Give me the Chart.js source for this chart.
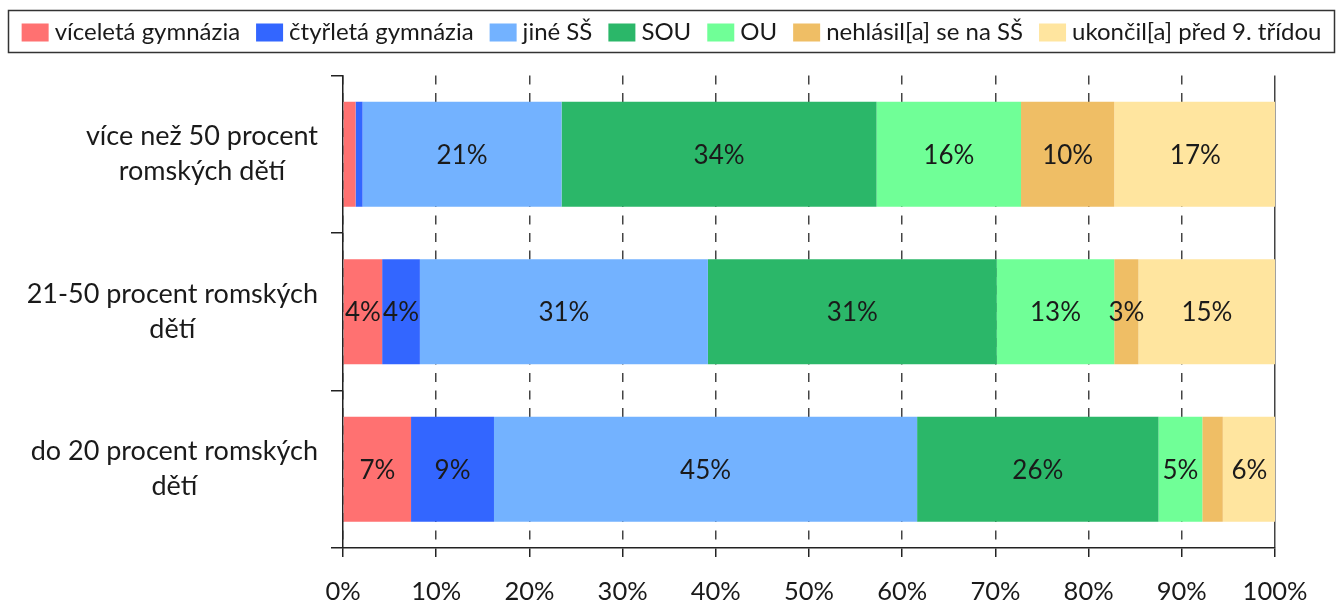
<!DOCTYPE html>
<html>
<head>
<meta charset="utf-8">
<script src="https://cdn.jsdelivr.net/npm/chart.js@4"></script>
<style>
  body { margin: 0; background: #fff; }
  canvas { display: block; }
</style>
</head>
<body>
<canvas id="chart" width="1342" height="604"></canvas>
<script>
// Categories (top to bottom)
const categories = [
  ['více než 50 procent', 'romských dětí'],
  ['21-50 procent romských', 'dětí'],
  ['do 20 procent romských', 'dětí']
];

// Series (percent of pupils)
const seriesNames = ['víceletá gymnázia', 'čtyřletá gymnázia', 'jiné SŠ', 'SOU', 'OU', 'nehlásil[a] se na SŠ', 'ukončil[a] před 9. třídou'];
const viceleta = [1.35, 4.2, 7.3];
const ctyrleta = [0.75, 4.05, 8.9];
const jineSS = [21.35, 30.9, 45.4];
const sou = [33.8, 31.0, 25.9];
const ou = [15.5, 12.6, 4.7];
const nehlasil = [10.0, 2.6, 2.2];
const ukoncil = [17.4, 14.7, 5.7];
const seriesColors = ['#FF7171', '#3366FF', '#73B2FF', '#2BB769', '#70FF97', '#EFBE65', '#FFE59F'];

const xTicks = [0, 10, 20, 30, 40, 50, 60, 70, 80, 90, 100];

const FONT = 'Lato, "Open Sans", sans-serif';
const TEXT = '#1a1a1a';

const seriesData = [viceleta, ctyrleta, jineSS, sou, ou, nehlasil, ukoncil];
const datasets = seriesNames.map((name, i) => ({
  label: name,
  data: seriesData[i],
  backgroundColor: seriesColors[i],
  borderWidth: 0,
  barPercentage: 0.667,
  categoryPercentage: 1.0
}));

// Framed one-row legend (Chart.js legend spaces items too wide to fit one row)
const legendBox = {
  id: 'legendBox',
  afterDraw(chart) {
    const ctx = chart.ctx;
    const left = 8, right = 1335, top = 10, bottom = 53;
    ctx.save();
    ctx.strokeStyle = '#333';
    ctx.lineWidth = 1.5;
    ctx.strokeRect(left + 0.5, top + 0.5, right - left - 1, bottom - top - 1);
    ctx.font = '24px ' + FONT;
    ctx.textBaseline = 'middle';
    ctx.textAlign = 'left';
    const items = chart.data.datasets.map(ds => ({
      label: ds.label, color: ds.backgroundColor, w: ctx.measureText(ds.label).width
    }));
    const boxW = 27, boxH = 18, gap = 6, spacing = 16;
    const total = items.reduce((s, it) => s + boxW + gap + it.w, 0) + spacing * (items.length - 1);
    let x = (left + right) / 2 - total / 2;
    const cy = (top + bottom) / 2 + 1;
    items.forEach(it => {
      ctx.fillStyle = it.color;
      ctx.fillRect(x, cy - boxH / 2, boxW, boxH);
      ctx.fillStyle = TEXT;
      ctx.fillText(it.label, x + boxW + gap, cy);
      x += boxW + gap + it.w + spacing;
    });
    ctx.restore();
  }
};

// Category labels: block right-aligned, lines centred within block
const yLabels = {
  id: 'yLabels',
  afterDraw(chart) {
    const scale = chart.scales.y;
    const ctx = chart.ctx;
    ctx.save();
    ctx.font = '27px ' + FONT;
    ctx.fillStyle = TEXT;
    ctx.textAlign = 'center';
    ctx.textBaseline = 'middle';
    const right = scale.right - 25;
    categories.forEach((lines, i) => {
      const widest = Math.max(...lines.map(l => ctx.measureText(l).width));
      const cx = right - widest / 2;
      const cy = scale.getPixelForTick(i);
      lines.forEach((l, k) => {
        ctx.fillText(l, cx, cy + (k - (lines.length - 1) / 2) * 35);
      });
    });
    ctx.restore();
  }
};

// Value labels inside the bars
const barLabels = {
  id: 'barLabels',
  afterDatasetsDraw(chart) {
    const ctx = chart.ctx;
    ctx.save();
    ctx.font = '26px ' + FONT;
    ctx.fillStyle = TEXT;
    ctx.textAlign = 'center';
    ctx.textBaseline = 'middle';
    chart.data.datasets.forEach((ds, di) => {
      chart.getDatasetMeta(di).data.forEach((bar, i) => {
        const v = ds.data[i];
        if (v < 2.5) return;
        ctx.fillText(Math.round(v) + '%', (bar.x + bar.base) / 2, bar.y + 1);
      });
    });
    ctx.restore();
  }
};

new Chart(document.getElementById('chart'), {
  type: 'bar',
  data: { labels: categories.map(c => c.join(' ')), datasets },
  options: {
    indexAxis: 'y',
    responsive: false,
    animation: false,
    layout: { padding: { top: 75.5, left: 8, right: 7, bottom: 0 } },
    plugins: {
      legend: { display: false },
      tooltip: { enabled: false }
    },
    scales: {
      x: {
        stacked: true,
        min: 0,
        max: 100,
        afterBuildTicks(scale) { scale.ticks = xTicks.map(v => ({ value: v })); },
        afterFit(scale) { scale.height = 56; },
        ticks: {
          color: TEXT,
          padding: 19,
          font: { family: FONT, size: 25.5 },
          callback: v => v + '%'
        },
        grid: {
          color: '#444',
          lineWidth: 1.5,
          tickLength: 9,
          tickColor: '#222'
        },
        border: {
          color: '#222',
          width: 1.5,
          dash: ctx => (ctx.tick && ctx.tick.value === 100 ? [] : [9, 8.5])
        }
      },
      y: {
        stacked: true,
        afterFit(scale) { scale.width = 335; },
        ticks: { display: false },
        grid: {
          offset: true,
          drawOnChartArea: false,
          tickLength: 12,
          color: '#222',
          lineWidth: 1.5
        },
        border: { color: '#222', width: 1.5 }
      },
      yr: {
        type: 'category',
        position: 'right',
        afterFit(scale) { scale.width = 60; },
        ticks: { display: false },
        grid: { display: false },
        border: { display: false }
      }
    }
  },
  plugins: [legendBox, yLabels, barLabels]
});
</script>
</body>
</html>
